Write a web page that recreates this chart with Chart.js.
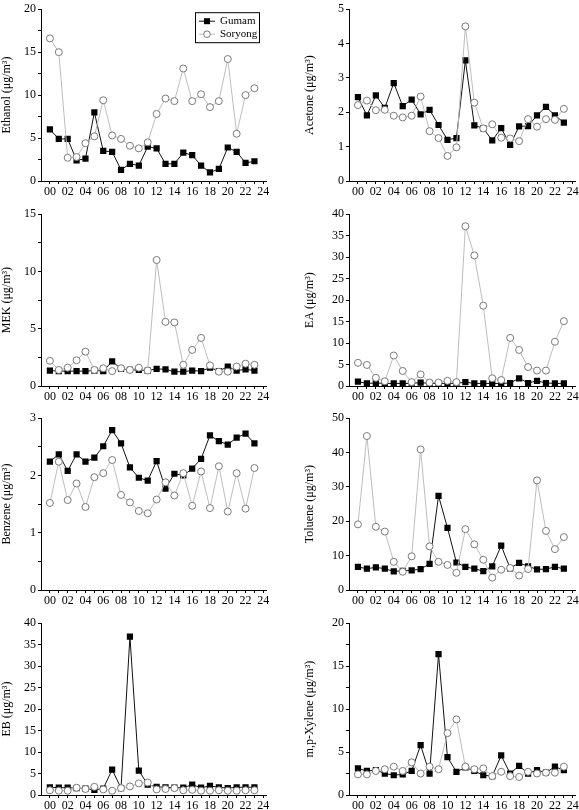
<!DOCTYPE html>
<html>
<head>
<meta charset="utf-8">
<script src="https://cdn.jsdelivr.net/npm/chart.js@4.4.1/dist/chart.umd.min.js"></script>
<style>
    body { margin: 0; background: #fff; width: 579px; height: 810px; overflow: hidden; position: relative; }
    canvas { position: absolute; }
</style>
</head>
<body>
<script>
// hours of the day (x values) and the x tick labels
const hours = [0, 1, 2, 3, 4, 5, 6, 7, 8, 9, 10, 11, 12, 13, 14, 15, 16, 17, 18, 19, 20, 21, 22, 23];
const xTickLabels = ['00', '02', '04', '06', '08', '10', '12', '14', '16', '18', '20', '22', '24'];
const seriesNames = ['Gumam', 'Soryong'];

// concentrations, ug/m3, read hour by hour
const ethanolGumam = [6.0, 4.9, 4.9, 2.4, 2.6, 8.0, 3.5, 3.4, 1.3, 2.0, 1.8, 4.0, 3.8, 2.0, 2.0, 3.3, 3.0, 1.8, 1.0, 1.4, 3.9, 3.4, 2.1, 2.3];
const ethanolSoryong = [16.6, 15.0, 2.7, 2.8, 4.4, 5.2, 9.4, 5.3, 4.9, 4.1, 3.8, 4.5, 7.8, 9.6, 9.3, 13.1, 9.3, 10.1, 8.6, 9.3, 14.2, 5.5, 10.0, 10.8];

const acetoneGumam = [2.44, 1.91, 2.49, 2.13, 2.85, 2.18, 2.37, 1.94, 2.07, 1.63, 1.20, 1.25, 3.51, 1.62, 1.53, 1.18, 1.54, 1.05, 1.59, 1.60, 1.91, 2.16, 1.91, 1.70];
const acetoneSoryong = [2.21, 2.34, 2.06, 2.07, 1.90, 1.85, 1.90, 2.46, 1.45, 1.25, 0.73, 0.98, 4.50, 2.28, 1.53, 1.65, 1.26, 1.24, 1.16, 1.80, 1.58, 1.80, 1.78, 2.10];

const mekGumam = [1.35, 1.3, 1.3, 1.3, 1.3, 1.35, 1.3, 2.15, 1.5, 1.4, 1.4, 1.35, 1.5, 1.45, 1.25, 1.25, 1.35, 1.3, 1.6, 1.3, 1.7, 1.35, 1.45, 1.35];
const mekSoryong = [2.2, 1.4, 1.6, 2.25, 3.0, 1.4, 1.55, 1.3, 1.55, 1.4, 1.6, 1.35, 11.0, 5.6, 5.55, 1.85, 3.15, 4.2, 1.8, 1.25, 1.25, 1.7, 1.95, 1.85];

const eaGumam = [1.0, 0.6, 0.7, 0.6, 0.6, 0.6, 0.6, 0.8, 0.6, 0.6, 0.6, 0.6, 0.9, 0.6, 0.6, 0.6, 0.6, 0.7, 1.8, 0.7, 1.2, 0.7, 0.6, 0.6];
const eaSoryong = [5.4, 4.9, 1.9, 1.1, 7.1, 3.5, 0.9, 2.7, 0.8, 0.8, 1.2, 0.9, 37.2, 30.4, 18.7, 1.8, 1.4, 11.2, 8.4, 4.4, 3.6, 3.6, 10.3, 15.1];

const benzeneGumam = [2.24, 2.37, 2.08, 2.37, 2.24, 2.31, 2.51, 2.79, 2.56, 2.14, 1.96, 1.91, 2.25, 1.77, 2.03, 2.00, 2.12, 2.29, 2.70, 2.60, 2.54, 2.66, 2.73, 2.56];
const benzeneSoryong = [1.52, 2.24, 1.57, 1.86, 1.45, 1.97, 2.04, 2.27, 1.66, 1.53, 1.38, 1.34, 1.58, 1.88, 1.65, 2.04, 1.47, 2.07, 1.43, 2.16, 1.37, 2.04, 1.42, 2.13];

const tolueneGumam = [6.7, 6.2, 6.6, 6.2, 5.4, 5.6, 5.7, 6.1, 7.6, 27.4, 18.1, 8.0, 6.7, 6.2, 5.5, 6.9, 12.9, 6.3, 7.9, 6.9, 6.0, 6.1, 6.7, 6.2];
const tolueneSoryong = [19.1, 44.8, 18.4, 17.0, 8.2, 5.3, 9.8, 40.9, 12.7, 8.2, 7.3, 5.0, 17.7, 13.3, 8.8, 3.6, 5.9, 6.4, 4.2, 6.1, 31.9, 17.2, 11.9, 15.4];

const ebGumam = [1.8, 1.7, 1.7, 1.6, 1.5, 1.2, 1.5, 5.9, 1.6, 36.9, 5.7, 2.4, 1.9, 1.8, 1.7, 1.7, 2.4, 1.7, 2.1, 1.8, 1.6, 1.8, 1.8, 1.8];
const ebSoryong = [1.1, 1.0, 1.0, 1.7, 1.4, 1.9, 1.3, 1.0, 1.6, 2.0, 2.7, 2.9, 1.3, 1.4, 1.6, 1.1, 1.2, 1.0, 1.0, 1.1, 1.0, 1.0, 1.1, 1.1];

const xyleneGumam = [3.1, 2.8, 2.9, 2.5, 2.3, 2.4, 2.8, 5.8, 2.5, 16.4, 4.4, 2.7, 3.2, 2.8, 2.3, 2.2, 4.6, 2.5, 3.4, 2.5, 2.9, 2.6, 3.3, 2.9];
const xyleneSoryong = [2.4, 2.4, 2.8, 3.0, 3.3, 2.8, 3.8, 2.5, 3.3, 3.0, 7.2, 8.8, 3.3, 3.0, 3.1, 2.2, 2.7, 2.2, 2.1, 2.7, 2.5, 2.6, 2.6, 3.3];

const panels = [
    { title: 'Ethanol (μg/m³)', yMax: 20, yStep: 5, gumam: ethanolGumam, soryong: ethanolSoryong, col: 0, row: 0, legend: true },
    { title: 'Acetone (μg/m³)', yMax: 5, yStep: 1, gumam: acetoneGumam, soryong: acetoneSoryong, col: 1, row: 0 },
    { title: 'MEK (μg/m³)', yMax: 15, yStep: 5, gumam: mekGumam, soryong: mekSoryong, col: 0, row: 1 },
    { title: 'EA (μg/m³)', yMax: 40, yStep: 5, gumam: eaGumam, soryong: eaSoryong, col: 1, row: 1 },
    { title: 'Benzene (μg/m³)', yMax: 3, yStep: 1, gumam: benzeneGumam, soryong: benzeneSoryong, col: 0, row: 2 },
    { title: 'Toluene (μg/m³)', yMax: 50, yStep: 10, gumam: tolueneGumam, soryong: tolueneSoryong, col: 1, row: 2 },
    { title: 'EB (μg/m³)', yMax: 40, yStep: 5, gumam: ebGumam, soryong: ebSoryong, col: 0, row: 3 },
    { title: 'm,p-Xylene (μg/m³)', yMax: 20, yStep: 5, gumam: xyleneGumam, soryong: xyleneSoryong, col: 1, row: 3 }
];

// placement of the canvases
const COLS = [
    { left: 0, width: 280, axisWidth: 41, padRight: 14 },
    { left: 303, width: 290, axisWidth: 46, padRight: 17.5 }
];
const ROW_TOPS = [0, 205, 409, 614];
const FONT = { family: '"Liberation Serif", "Times New Roman", serif', size: 12 };

// legend box in the upper right of the first panel
const legendBox = {
    id: 'legendBox',
    afterDraw(chart) {
        const ctx = chart.ctx;
        const x = chart.chartArea.right - 71;
        const y = chart.chartArea.top + 3;
        ctx.save();
        ctx.strokeStyle = '#000';
        ctx.lineWidth = 1;
        ctx.strokeRect(x + 0.5, y + 0.5, 64, 30);
        ctx.font = '11px "Liberation Serif", serif';
        ctx.textBaseline = 'middle';
        chart.data.datasets.forEach((ds, i) => {
            const cy = y + 9 + i * 13;
            ctx.strokeStyle = ds.borderColor;
            ctx.beginPath();
            ctx.moveTo(x + 4, cy);
            ctx.lineTo(x + 20, cy);
            ctx.stroke();
            if (ds.pointStyle === 'rect') {
                ctx.fillStyle = ds.pointBackgroundColor;
                ctx.fillRect(x + 9, cy - 3, 6, 6);
            } else {
                ctx.fillStyle = '#fff';
                ctx.strokeStyle = ds.pointBorderColor;
                ctx.beginPath();
                ctx.arc(x + 12, cy, 3.3, 0, Math.PI * 2);
                ctx.fill();
                ctx.stroke();
            }
            ctx.fillStyle = '#000';
            ctx.fillText(ds.label, x + 25, cy);
        });
        ctx.restore();
    }
};

panels.forEach(p => {
    const col = COLS[p.col];
    const canvas = document.createElement('canvas');
    canvas.width = col.width;
    canvas.height = 200;
    canvas.style.left = col.left + 'px';
    canvas.style.top = ROW_TOPS[p.row] + 'px';
    document.body.appendChild(canvas);

    new Chart(canvas.getContext('2d'), {
        type: 'line',
        data: {
            datasets: [{
                label: seriesNames[0],
                data: hours.map((h, i) => ({ x: h, y: p.gumam[i] })),
                borderColor: '#111',
                borderWidth: 1,
                pointStyle: 'rect',
                pointRadius: 4.4,
                pointBackgroundColor: '#000',
                pointBorderColor: '#000',
                pointBorderWidth: 0,
                order: 1
            }, {
                label: seriesNames[1],
                data: hours.map((h, i) => ({ x: h, y: p.soryong[i] })),
                borderColor: '#bdbdbd',
                borderWidth: 1,
                pointStyle: 'circle',
                pointRadius: 3.5,
                pointBackgroundColor: '#fff',
                pointBorderColor: '#7a7a7a',
                pointBorderWidth: 1,
                order: 0
            }]
        },
        options: {
            responsive: false,
            animation: false,
            events: [],
            layout: { padding: { top: 7, right: col.padRight, bottom: 0, left: 0 } },
            plugins: { legend: { display: false }, tooltip: { enabled: false } },
            scales: {
                x: {
                    type: 'linear',
                    min: -1,
                    max: 24.3,
                    afterBuildTicks: s => { s.ticks = hours.concat([24]).map(v => ({ value: v })); },
                    afterFit: s => { s.height = 19; },
                    ticks: {
                        autoSkip: false,
                        maxRotation: 0,
                        padding: 1,
                        color: '#000',
                        font: FONT,
                        callback: v => (v % 2 === 0 ? xTickLabels[v / 2] : '')
                    },
                    grid: { drawOnChartArea: false, tickLength: 3, color: '#000' },
                    border: { color: '#000', width: 1 }
                },
                y: {
                    min: 0,
                    max: p.yMax,
                    afterBuildTicks: s => {
                        const t = [];
                        const minor = p.yStep / 2;
                        for (let v = 0; v <= p.yMax + 1e-9; v += minor) t.push({ value: +v.toFixed(4) });
                        s.ticks = t;
                    },
                    afterFit: s => { s.width = col.axisWidth; },
                    ticks: {
                        padding: 2,
                        color: '#000',
                        font: FONT,
                        callback: v => (Math.abs(v / p.yStep - Math.round(v / p.yStep)) < 1e-6 ? String(v) : '')
                    },
                    grid: { drawOnChartArea: false, tickLength: 3, color: '#000' },
                    border: { color: '#000', width: 1 },
                    title: { display: true, text: p.title, color: '#000', font: FONT, padding: 0 }
                }
            }
        },
        plugins: p.legend ? [legendBox] : []
    });
});
</script>
</body>
</html>
